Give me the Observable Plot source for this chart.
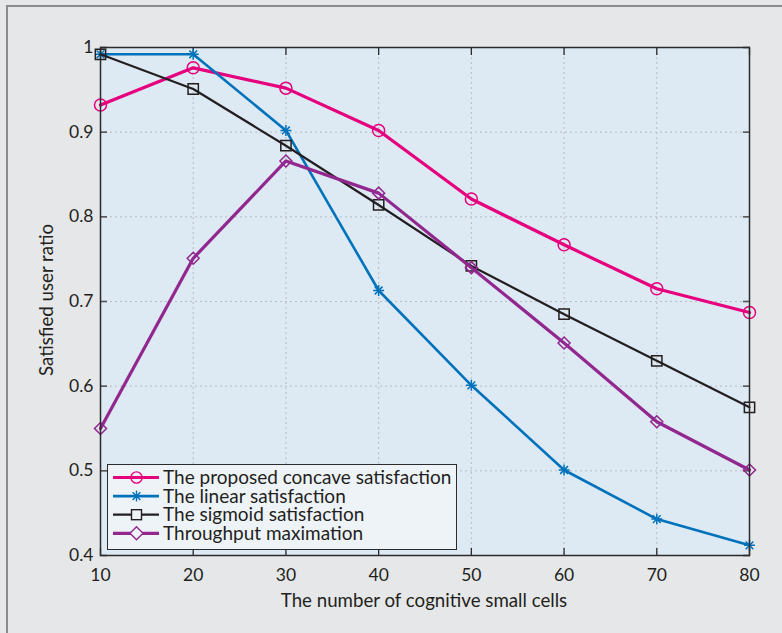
<!DOCTYPE html>
<html>
<head>
<meta charset="utf-8">
<script src="https://cdn.jsdelivr.net/npm/d3@7"></script>
<script src="https://cdn.jsdelivr.net/npm/@observablehq/plot@0.6"></script>
<style>
  html, body { margin: 0; padding: 0; background: #e6e7e8; }
  #wrap { position: relative; width: 782px; height: 633px; overflow: hidden; background: #e6e7e8; font-family: Lato, "Noto Sans", sans-serif; color: #231f20; }
  #border { position: absolute; left: 6px; top: 5px; width: 900px; height: 800px; border-left: 2px solid #8c8c8c; border-top: 2px solid #8c8c8c; }
  #chart { position: absolute; left: 0; top: 0; }
  .title { position: absolute; font-size: 18.7px; white-space: nowrap; line-height: 22px; }
  #xtitle { left: 0; width: 848px; top: 589px; text-align: center; }
  #ytitle { left: 46px; top: 300px; transform: translate(-50%, -50%) rotate(-90deg); }
  #legend { position: absolute; left: 107px; top: 464px; width: 348px; height: 84px; background: #eef3f8; border: 1px solid #2b2b2b; }
  #legend svg { position: absolute; left: 5px; top: 0; }
  #legtext { position: absolute; left: 55px; top: 3px; font-size: 19px; line-height: 18.5px; white-space: nowrap; }
</style>
</head>
<body>
<div id="wrap">
  <div id="border"></div>
  <div id="chart"></div>
  <div class="title" id="xtitle"></div>
  <div class="title" id="ytitle"></div>
  <div id="legend"></div>
</div>
<script>
const cells = [10, 20, 30, 40, 50, 60, 70, 80];
const concave = [0.932, 0.976, 0.952, 0.902, 0.821, 0.767, 0.715, 0.687];
const linear = [0.992, 0.992, 0.902, 0.713, 0.601, 0.501, 0.443, 0.412];
const sigmoid = [0.992, 0.951, 0.884, 0.814, 0.742, 0.685, 0.630, 0.575];
const throughput = [0.550, 0.751, 0.866, 0.828, 0.740, 0.651, 0.558, 0.501];

const seriesNames = ["The proposed concave satisfaction", "The linear satisfaction", "The sigmoid satisfaction", "Throughput maximation"];
const xTicks = [10, 20, 30, 40, 50, 60, 70, 80];
const yTicks = [0.4, 0.5, 0.6, 0.7, 0.8, 0.9, 1];
const xTitle = "The number of cognitive small cells";
const yTitle = "Satisfied user ratio";

const colors = ["#e6007e", "#0072bc", "#231f20", "#92278f"];
const widths = [3.2, 2.6, 2.2, 3.2];
const allValues = [concave, linear, sigmoid, throughput];

const data = [];
allValues.forEach((vals, s) => vals.forEach((v, i) => data.push({series: seriesNames[s], s, x: cells[i], y: v})));
const bySeries = s => data.filter(d => d.s === s);

const marks = [
  Plot.frame({fill: "#dde9f3", stroke: null}),
  Plot.gridX(xTicks.slice(1, -1), {stroke: "#b8bcc0", strokeOpacity: 1, strokeDasharray: "2,3", strokeWidth: 1}),
  Plot.gridY(yTicks.slice(1, -1), {stroke: "#b8bcc0", strokeOpacity: 1, strokeDasharray: "2,3", strokeWidth: 1}),
  Plot.axisX(xTicks, {anchor: "bottom", tickSize: 0, tickPadding: 13, label: null, fontSize: 17.5, tickFormat: d => String(d)}),
  Plot.axisY(yTicks, {anchor: "left", tickSize: 0, tickPadding: 7, label: null, fontSize: 17.5, tickFormat: d => String(d)}),
  Plot.axisX(xTicks, {anchor: "bottom", tickSize: -7, tickFormat: () => "", label: null, stroke: "#2b2b2b", strokeWidth: 1.3}),
  Plot.axisX(xTicks, {anchor: "top", tickSize: -7, tickFormat: () => "", label: null, stroke: "#2b2b2b", strokeWidth: 1.3}),
  Plot.axisY(yTicks, {anchor: "left", tickSize: -7, tickFormat: () => "", label: null, stroke: "#555", strokeWidth: 1.6}),
  Plot.axisY(yTicks, {anchor: "right", tickSize: -7, tickFormat: () => "", label: null, stroke: "#555", strokeWidth: 1.6}),
];

// lines and markers, in legend order
[0, 1, 2, 3].forEach(s => {
  marks.push(Plot.line(bySeries(s), {x: "x", y: "y", stroke: colors[s], strokeWidth: widths[s], strokeLinejoin: "round"}));
  const common = {x: "x", y: "y", stroke: colors[s], strokeWidth: 1.5, fill: "none"};
  if (s === 0) marks.push(Plot.dot(bySeries(s), {...common, symbol: "circle", r: 6}));
  if (s === 1) {
    marks.push(Plot.dot(bySeries(s), {...common, symbol: "plus", r: 3.6}));
    marks.push(Plot.dot(bySeries(s), {...common, symbol: "times", r: 3.6}));
  }
  if (s === 2) marks.push(Plot.dot(bySeries(s), {...common, symbol: "square", r: 5.8}));
  if (s === 3) marks.push(Plot.dot(bySeries(s), {...common, symbol: "diamond2", r: 5.4}));
});

marks.push(Plot.frame({stroke: "#2b2b2b", strokeWidth: 1.5}));

const chart = Plot.plot({
  width: 782,
  height: 633,
  marginLeft: 100,
  marginRight: 33,
  marginTop: 47,
  marginBottom: 78,
  x: {domain: [10, 80]},
  y: {domain: [0.4, 1.0]},
  style: {background: "transparent", fontFamily: "Lato, 'Noto Sans', sans-serif", fontSize: "17.5px", color: "#231f20"},
  marks
});
document.getElementById("chart").appendChild(chart);

document.getElementById("xtitle").textContent = xTitle;
document.getElementById("ytitle").textContent = yTitle;

// legend: one svg of samples, one text block
const legend = document.getElementById("legend");
const rowY = s => 12.5 + s * 18.6;
let svg = `<svg width="48" height="84">`;
seriesNames.forEach((name, s) => {
  const c = colors[s], cy = rowY(s), cx = 23.5;
  svg += `<line x1="0" y1="${cy}" x2="46" y2="${cy}" stroke="${c}" stroke-width="${widths[s]}"/>`;
  if (s === 0) svg += `<circle cx="${cx}" cy="${cy}" r="5.6" fill="none" stroke="${c}" stroke-width="1.4"/>`;
  if (s === 1) svg += `<path d="M${cx},${cy-5.5}V${cy+5.5}M${cx-5.5},${cy}H${cx+5.5}M${cx-3.9},${cy-3.9}L${cx+3.9},${cy+3.9}M${cx+3.9},${cy-3.9}L${cx-3.9},${cy+3.9}" stroke="${c}" stroke-width="1.4"/>`;
  if (s === 2) svg += `<rect x="${cx-5}" y="${cy-5}" width="10" height="10" fill="#eef3f8" stroke="${c}" stroke-width="1.4"/>`;
  if (s === 3) svg += `<path d="M${cx},${cy-6.5}L${cx+6.5},${cy}L${cx},${cy+6.5}L${cx-6.5},${cy}Z" fill="#eef3f8" stroke="${c}" stroke-width="1.4"/>`;
});
svg += `</svg>`;
legend.innerHTML = svg + `<div id="legtext">${seriesNames.join("<br>")}</div>`;
</script>
</body>
</html>
